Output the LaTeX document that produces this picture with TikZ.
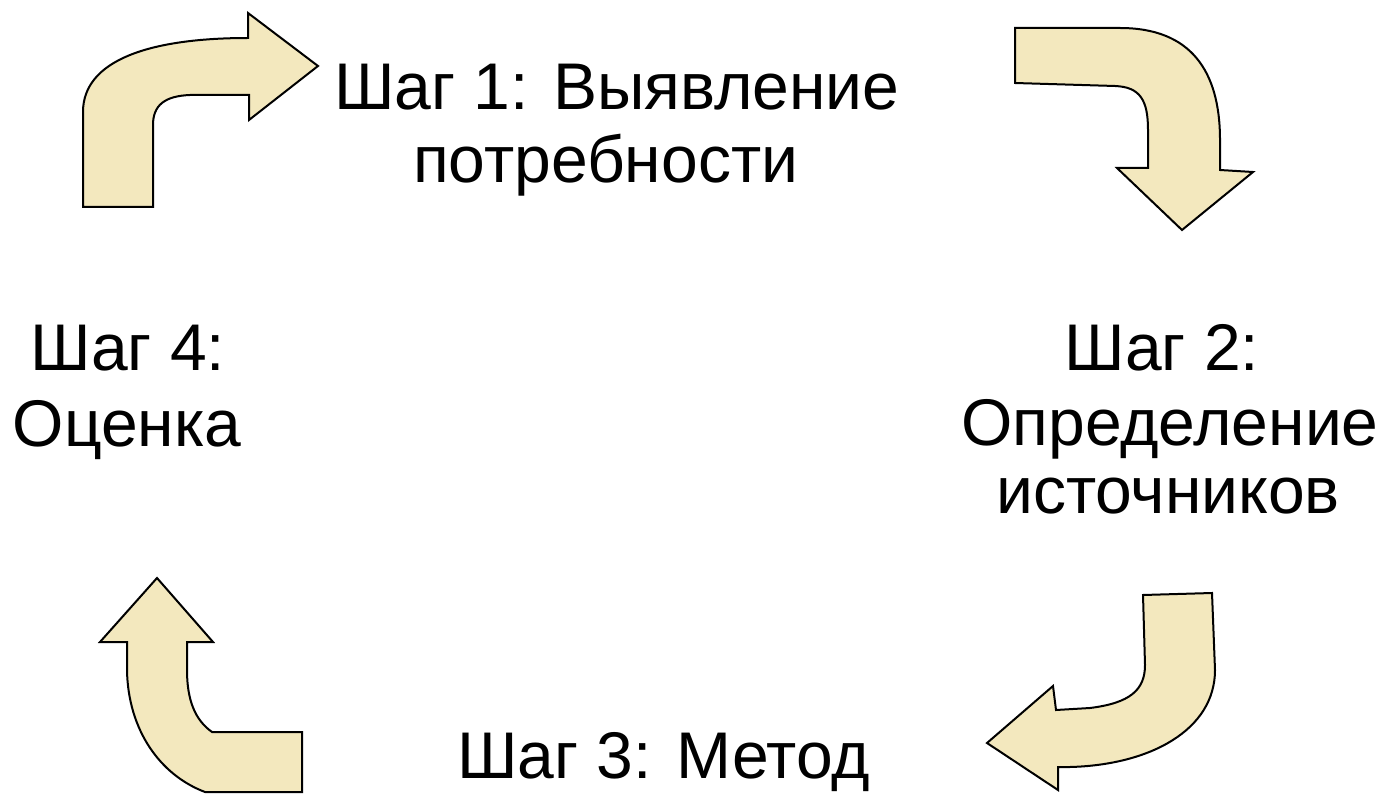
\documentclass[tikz,border=0pt]{standalone}
\usepackage{fontspec}
\setmainfont{Liberation Sans}
\definecolor{arrowfill}{RGB}{243,232,190}
\begin{document}
\begin{tikzpicture}[x=1pt,y=-1pt,
  bent/.style={fill=arrowfill,draw=black,line width=2pt,line join=miter},
  lbl/.style={font=\fontsize{66}{73}\selectfont,inner sep=0pt,anchor=base},
  lblw/.style={lbl,anchor=base west}]
\path[use as bounding box] (0,0) rectangle (1389,794);
% arrow 1 (top left)
\path[bent] (83,207) -- (83,112) .. controls (83,60) and (150,38) .. (248,38)
  -- (248,13) -- (318,66) -- (249,120) -- (249,95) -- (190,95)
  .. controls (165,96) and (153,105) .. (153,125) -- (153,207) -- cycle;
% arrow 2 (top right)
\path[bent] (1015,28) -- (1120,28) .. controls (1190,28) and (1220,70) .. (1220,140)
  -- (1220,170) -- (1253,172) -- (1182,230) -- (1117,168) -- (1148,168) -- (1148,130)
  .. controls (1148,100) and (1140,87) .. (1115,86) -- (1015,83) -- cycle;
% arrow 3 (bottom right)
\path[bent] (1143,595) -- (1212,593) -- (1215,670) .. controls (1215,730) and (1150,765) .. (1070,767)
  -- (1058,767) -- (1058,790) -- (987,743) -- (1053,686) -- (1056,710) -- (1090,708)
  .. controls (1130,703) and (1145,690) .. (1145,665) -- cycle;
% arrow 4 (bottom left)
\path[bent] (157,578) -- (213,642) -- (187,642) -- (187,670)
  .. controls (187,700) and (195,720) .. (212,732) -- (302,732) -- (302,792) -- (205,792)
  .. controls (160,775) and (128,730) .. (127,670) -- (127,642) -- (100,642) -- cycle;
% labels
\node[lblw] (s1a) at (334,110) {Шаг 1: Выявление};
\node[lblw] (s1b) at (413,183) {потребности};
\node[lbl] (s2a) at (1162,370) {Шаг 2:};
\node[lbl] (s2b) at (1170,445) {Определение};
\node[lbl] (s2c) at (1168,513) {источников};
\node[lblw] (s3) at (457,778) {Шаг 3: Метод};
\node[lbl] (s4a) at (128,370) {Шаг 4:};
\node[lbl] (s4b) at (127,446) {Оценка};
\end{tikzpicture}
\end{document}
